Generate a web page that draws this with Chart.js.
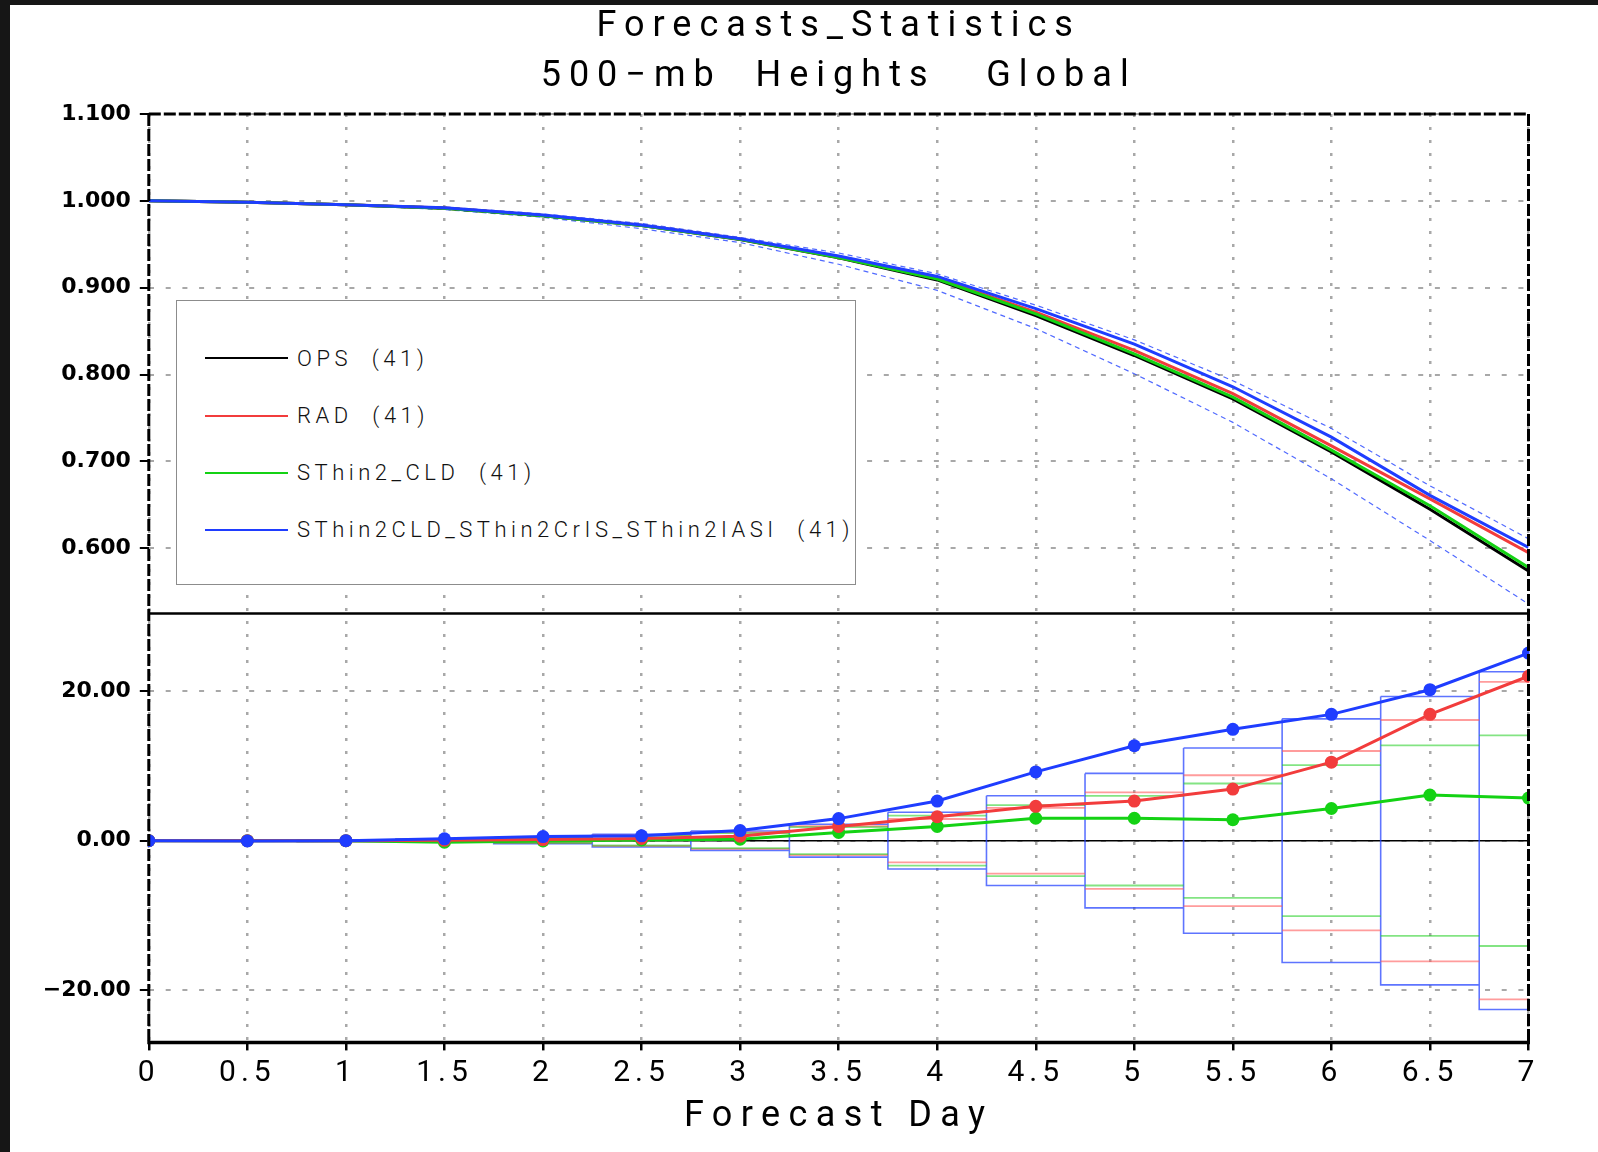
<!DOCTYPE html>
<html>
<head>
<meta charset="utf-8">
<title>Forecasts_Statistics</title>
<script src="https://cdn.jsdelivr.net/npm/chart.js"></script>
<style>
  html, body { margin: 0; padding: 0; background: #161616; }
  #page { position: absolute; left: 10px; top: 5px; width: 1588px; height: 1147px; background: #fff; }
  #chart { position: absolute; left: 0; top: 0; }
  #legend {
    position: absolute; left: 166px; top: 295px; width: 678px; height: 283px;
    border: 1.5px solid #8c8c8c; background: #fff;
    font-family: Roboto, 'DejaVu Sans', sans-serif; font-weight: 300; font-size: 22px;
    letter-spacing: 4.5px; color: #111;
  }
  #legend .row { position: absolute; left: 0; height: 30px; display: flex; align-items: center; white-space: pre; }
  #legend .swatch { width: 83px; height: 2px; margin-left: 28px; margin-right: 9px; }
</style>
</head>
<body>
<div id="page">
  <canvas id="chart" width="1588" height="1147"></canvas>
  <div id="legend"></div>
</div>
<script>
// forecast days (x)
var days = [0, 0.5, 1, 1.5, 2, 2.5, 3, 3.5, 4, 4.5, 5, 5.5, 6, 6.5, 7]
var seriesNames = ['OPS', 'RAD', 'SThin2_CLD', 'SThin2CLD_SThin2CrIS_SThin2IASI']
var caseCounts = [41, 41, 41, 41]
var seriesColors = ['#000000', '#f23c3c', '#14d214', '#1f3dff']

// top panel: anomaly correlation
var acOps = [1.000, 0.9985, 0.9955, 0.9915, 0.983, 0.9715, 0.9555, 0.9345, 0.909, 0.868, 0.822, 0.772, 0.711, 0.645, 0.574]
var acRad = [1.000, 0.9985, 0.9955, 0.9917, 0.9833, 0.972, 0.956, 0.935, 0.911, 0.872, 0.828, 0.778, 0.718, 0.657, 0.595]
var acCld = [1.000, 0.9985, 0.9955, 0.9915, 0.983, 0.9716, 0.9557, 0.9347, 0.910, 0.870, 0.824, 0.774, 0.713, 0.649, 0.578]
var acAll = [1.000, 0.9985, 0.9955, 0.992, 0.9836, 0.9722, 0.9565, 0.9365, 0.913, 0.876, 0.835, 0.786, 0.728, 0.661, 0.601]
var acAllHi = [1.000, 0.999, 0.996, 0.993, 0.985, 0.974, 0.958, 0.940, 0.916, 0.880, 0.840, 0.793, 0.738, 0.672, 0.611]
var acAllLo = [1.000, 0.998, 0.995, 0.990, 0.981, 0.968, 0.952, 0.927, 0.897, 0.853, 0.801, 0.745, 0.680, 0.609, 0.536]

// bottom panel: difference from OPS and significance thresholds
var diffRad = [0, 0, 0, 0.05, 0.15, 0.3, 0.6, 1.9, 3.2, 4.6, 5.3, 6.9, 10.5, 16.9, 22.0]
var diffCld = [0, 0, 0, -0.2, -0.05, 0.1, 0.2, 1.1, 1.9, 3.0, 3.0, 2.8, 4.3, 6.1, 5.7]
var diffAll = [0, -0.05, 0, 0.25, 0.55, 0.65, 1.35, 2.95, 5.3, 9.2, 12.7, 14.9, 16.9, 20.2, 25.1]
var sigAll = [0.02, 0.05, 0.1, 0.2, 0.4, 0.85, 1.3, 2.2, 3.8, 6.0, 9.0, 12.4, 16.3, 19.3, 22.6]
var sigRad = [0.02, 0.04, 0.08, 0.15, 0.3, 0.7, 1.1, 1.95, 2.9, 4.4, 6.45, 8.75, 12.0, 16.15, 21.25]
var sigCld = [0.02, 0.04, 0.08, 0.15, 0.3, 0.65, 1.0, 1.8, 3.35, 4.75, 6.0, 7.65, 10.1, 12.75, 14.1]

// axis ticks
var xTicks = [0, 0.5, 1, 1.5, 2, 2.5, 3, 3.5, 4, 4.5, 5, 5.5, 6, 6.5, 7]
var topTicks = [0.6, 0.7, 0.8, 0.9, 1.0, 1.1]
var botTicks = [-20, 0, 20]

var HERSHEY = 'Roboto, "DejaVu Sans", sans-serif'

function pts(arr) {
    return days.map(function (d, i) { return {x: d, y: arr[i]} })
}

// boxes / bars of the significance thresholds, +-half a step around each day
function sigShape(th, sides) {
    var out = []
    days.forEach(function (d, i) {
        var l = d - 0.25, r = d + 0.25
        if (sides) {
            out.push({x: l, y: th[i]}, {x: r, y: th[i]}, {x: r, y: -th[i]}, {x: l, y: -th[i]}, {x: l, y: th[i]}, {x: l, y: null})
        } else {
            out.push({x: l, y: th[i]}, {x: r, y: th[i]}, {x: r, y: null}, {x: l, y: -th[i]}, {x: r, y: -th[i]}, {x: r, y: null})
        }
    })
    return out
}

function curve(arr, color, order) {
    return {data: pts(arr), yAxisID: 'yTop', borderColor: color, borderWidth: 3, pointRadius: 0, order: order}
}

function diffLine(arr, color, order) {
    return {data: pts(arr), yAxisID: 'yBot', borderColor: color, backgroundColor: color, borderWidth: 3,
        pointRadius: 6.5, pointBackgroundColor: color, pointBorderWidth: 0, order: order, clip: 1}
}

var datasets = [
    curve(acOps, seriesColors[0], 4),
    curve(acRad, seriesColors[1], 3),
    curve(acCld, seriesColors[2], 2),
    curve(acAll, seriesColors[3], 1),
    {data: pts(acAllHi), yAxisID: 'yTop', borderColor: 'rgba(50,80,255,0.85)', borderWidth: 1.2, borderDash: [5, 4], pointRadius: 0, order: 6},
    {data: pts(acAllLo), yAxisID: 'yTop', borderColor: 'rgba(50,80,255,0.85)', borderWidth: 1.2, borderDash: [5, 4], pointRadius: 0, order: 6},
    {data: sigShape(sigAll, true), yAxisID: 'yBot', borderColor: 'rgba(40,70,255,0.75)', borderWidth: 1.6, pointRadius: 0, spanGaps: false, order: 12},
    {data: sigShape(sigRad, false), yAxisID: 'yBot', borderColor: 'rgba(255,90,90,0.6)', borderWidth: 1.8, pointRadius: 0, spanGaps: false, order: 11},
    {data: sigShape(sigCld, false), yAxisID: 'yBot', borderColor: 'rgba(30,205,30,0.55)', borderWidth: 1.8, pointRadius: 0, spanGaps: false, order: 10},
    diffLine(diffCld, seriesColors[2], 9),
    diffLine(diffRad, seriesColors[1], 8),
    diffLine(diffAll, seriesColors[3], 7)
]

// GrADS text is widely spaced; canvas letterSpacing for the chosen boxes
var spacingPlugin = {
    id: 'spacing',
    afterUpdate: function (chart) {
        function wrap(obj, name, px) {
            if (!obj || obj['_sp_' + name]) return
            var orig = obj[name]
            obj[name] = function () {
                var ctx = this.ctx || chart.ctx
                var old = ctx.letterSpacing
                ctx.letterSpacing = px + 'px'
                orig.apply(this, arguments)
                ctx.letterSpacing = old || '0px'
            }
            obj['_sp_' + name] = true
        }
        wrap(chart.titleBlock, 'draw', 8)
        wrap(chart.scales.x, 'drawLabels', 5)
        wrap(chart.scales.x, 'drawTitle', 8.4)
    }
}

var framePlugin = {
    id: 'frame',
    beforeDatasetsDraw: function (chart) {
        var ctx = chart.ctx, a = chart.chartArea
        var y0 = chart.scales.yBot.getPixelForValue(0)
        ctx.save()
        ctx.strokeStyle = '#000'
        ctx.lineWidth = 1.5
        ctx.beginPath(); ctx.moveTo(a.left, y0); ctx.lineTo(a.right, y0); ctx.stroke()
        ctx.restore()
    },
    afterDraw: function (chart) {
        var ctx = chart.ctx, a = chart.chartArea
        var mid = chart.scales.yTop.bottom
        function line(x1, y1, x2, y2) {
            ctx.beginPath(); ctx.moveTo(x1, y1); ctx.lineTo(x2, y2); ctx.stroke()
        }
        ctx.save()
        ctx.strokeStyle = '#000'
        ctx.lineWidth = 3
        ctx.setLineDash([12, 3])
        line(a.left, a.top, a.right, a.top)
        line(a.left, a.top, a.left, a.bottom)
        line(a.right, a.top, a.right, a.bottom)
        ctx.setLineDash([])
        ctx.lineWidth = 3.5
        line(a.left - 1.5, a.bottom, a.right + 1.5, a.bottom)
        ctx.lineWidth = 2.5
        line(a.left, mid, a.right, mid)
        ctx.restore()
    }
}

function yTickFont() {
    return {family: '"DejaVu Sans", sans-serif', size: 22, weight: 'bold'}
}

var ctx = document.getElementById('chart').getContext('2d')
var chart = new Chart(ctx, {
    type: 'line',
    data: {datasets: datasets},
    plugins: [spacingPlugin, framePlugin],
    options: {
        responsive: false,
        animation: false,
        events: [],
        layout: {padding: {left: 0, right: 69.5, top: 0, bottom: 0}},
        plugins: {
            legend: {display: false},
            tooltip: {enabled: false},
            title: {
                display: true,
                fullSize: false,
                text: ['Forecasts_Statistics', '500\u2212mb  Heights   Global'],
                color: '#000',
                font: {family: HERSHEY, size: 36, weight: 400, lineHeight: '50px'},
                padding: {top: -3.4, bottom: 12.4}
            }
        },
        scales: {
            x: {
                type: 'linear',
                min: 0,
                max: 7,
                afterBuildTicks: function (s) { s.ticks = xTicks.map(function (v) { return {value: v} }) },
                afterFit: function (s) { s.height = 109.6 },
                ticks: {
                    color: '#000',
                    font: {family: HERSHEY, size: 30, weight: 400},
                    padding: 5,
                    maxRotation: 0,
                    autoSkip: false,
                    callback: function (v) { return String(v) }
                },
                grid: {color: '#a8a8a8', lineWidth: 2.5, tickColor: '#000', tickLength: 8, tickWidth: 2.5},
                border: {display: false, dash: [3, 10]},
                title: {
                    display: true,
                    text: 'Forecast Day',
                    color: '#000',
                    font: {family: HERSHEY, size: 36, weight: 400},
                    padding: {top: 0, bottom: 13.4}
                }
            },
            yTop: {
                type: 'linear',
                axis: 'y',
                position: 'left',
                stack: 'panels',
                stackWeight: 499.5,
                weight: 2,
                min: 0.525,
                max: 1.1,
                afterBuildTicks: function (s) { s.ticks = topTicks.map(function (v) { return {value: v} }) },
                afterFit: function (s) { s.width = 138.8 },
                ticks: {
                    color: '#000',
                    font: yTickFont(),
                    padding: 9,
                    callback: function (v) { return v.toFixed(3) }
                },
                grid: {color: '#a8a8a8', lineWidth: 2, tickColor: '#000', tickLength: 9, tickWidth: 2},
                border: {display: false, dash: [5, 11.7]}
            },
            yBot: {
                type: 'linear',
                axis: 'y',
                position: 'left',
                stack: 'panels',
                stackWeight: 428.9,
                weight: 1,
                min: -27,
                max: 30.4,
                afterBuildTicks: function (s) { s.ticks = botTicks.map(function (v) { return {value: v} }) },
                afterFit: function (s) { s.width = 138.8 },
                ticks: {
                    color: '#000',
                    font: yTickFont(),
                    padding: 9,
                    callback: function (v) { return (v < 0 ? '\u2212' : '') + Math.abs(v).toFixed(2) }
                },
                grid: {color: '#a8a8a8', lineWidth: 2, tickColor: '#000', tickLength: 9, tickWidth: 2},
                border: {display: false, dash: [5, 11.7]}
            }
        }
    }
})

// legend box inside the top panel
var legend = document.getElementById('legend')
seriesNames.forEach(function (name, i) {
    var row = document.createElement('div')
    row.className = 'row'
    row.style.top = (57.3 + i * 57.2 - 15) + 'px'
    var sw = document.createElement('div')
    sw.className = 'swatch'
    sw.style.background = seriesColors[i]
    var label = document.createElement('span')
    label.textContent = name + '  (' + caseCounts[i] + ')'
    row.appendChild(sw)
    row.appendChild(label)
    legend.appendChild(row)
})
</script>
</body>
</html>
